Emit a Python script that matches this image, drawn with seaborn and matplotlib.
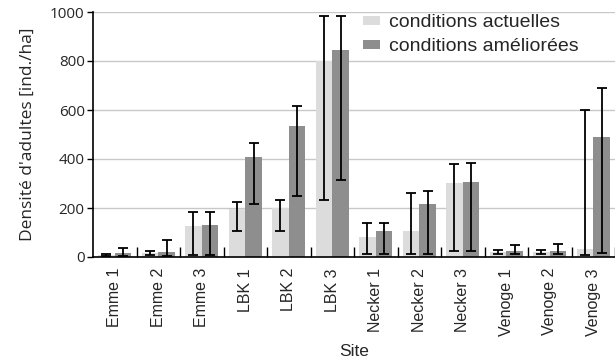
import matplotlib
matplotlib.use("Agg")
import matplotlib.pyplot as plt
import numpy as np
import pandas as pd
import seaborn as sns

sites = ["Emme 1", "Emme 2", "Emme 3", "LBK 1", "LBK 2", "LBK 3",
         "Necker 1", "Necker 2", "Necker 3", "Venoge 1", "Venoge 2", "Venoge 3"]
conditions = ["conditions actuelles", "conditions améliorées"]

# mean density and lower / upper bounds of the interval
actuelles = [10, 15, 128, 196, 200, 802, 83, 105, 304, 20, 20, 33]
actuelles_low = [6, 9, 10, 105, 107, 234, 12, 12, 23, 12, 12, 10]
actuelles_high = [14, 23, 185, 226, 234, 982, 137, 262, 378, 28, 28, 600]

ameliorees = [15, 20, 130, 409, 536, 844, 105, 216, 307, 25, 25, 488]
ameliorees_low = [3, 5, 10, 218, 250, 313, 12, 12, 23, 12, 12, 18]
ameliorees_high = [38, 70, 185, 466, 617, 982, 137, 268, 383, 48, 55, 688]

colors = ["#dcdcdc", "#8e8e8e"]

df = pd.DataFrame({
    "Site": sites * 2,
    "Condition": [conditions[0]] * len(sites) + [conditions[1]] * len(sites),
    "Densite": actuelles + ameliorees,
    "low": actuelles_low + ameliorees_low,
    "high": actuelles_high + ameliorees_high,
})

sns.set_theme(style="white")
plt.rcParams["font.family"] = ["Liberation Sans", "DejaVu Sans"]

fig = plt.figure(figsize=(6.15, 3.62), dpi=100)
ax = fig.add_axes([93 / 615, 1 - 257 / 362, 1 - 93 / 615, 245 / 362])

sns.barplot(data=df, x="Site", y="Densite", hue="Condition", order=sites,
            hue_order=conditions, palette=colors, errorbar=None,
            width=0.76, saturation=1, linewidth=0, ax=ax, zorder=2)

# asymmetric error bars at each bar's centre
for i, cond in enumerate(conditions):
    sub = df[df["Condition"] == cond].set_index("Site").loc[sites]
    container = ax.containers[i]
    xs = [p.get_x() + p.get_width() / 2 for p in container.patches]
    y = sub["Densite"].to_numpy()
    yerr = np.vstack([y - sub["low"].to_numpy(), sub["high"].to_numpy() - y])
    ax.errorbar(xs, y, yerr=yerr, fmt="none", ecolor="black",
                elinewidth=1.3, capsize=3.5, capthick=1.3, zorder=3)

ax.set_ylim(0, 1000)
ax.set_xlim(-0.5, len(sites) - 0.5)
ax.set_yticks(range(0, 1001, 200))
ax.yaxis.grid(True, color="#c8c8c8", linewidth=1.0, zorder=0)
ax.set_axisbelow(True)

for side in ["top", "right"]:
    ax.spines[side].set_visible(False)
for side in ["left", "bottom"]:
    ax.spines[side].set_color("black")
    ax.spines[side].set_linewidth(1.2)

ax.tick_params(axis="y", which="major", left=True, direction="out",
               length=4, width=1, color="black", labelsize=11, pad=2)
for lab in ax.get_yticklabels():
    lab.set_family(["Open Sans", "DejaVu Sans"])

ax.set_xticks(np.arange(len(sites)))
ax.set_xticklabels(sites, rotation=90, fontsize=11.5)
ax.set_xticks(np.arange(len(sites)) + 0.5, minor=True)
ax.tick_params(axis="x", which="major", bottom=False, length=0, pad=8)
ax.tick_params(axis="x", which="minor", bottom=True, direction="in",
               length=7, width=1, color="black")

ax.set_ylabel("Densité d'adultes [ind./ha]", fontsize=12.5,
              family=["Open Sans", "DejaVu Sans"], labelpad=10)
ax.set_xlabel("Site", fontsize=12.5, labelpad=6)

leg = ax.legend(loc="upper left", bbox_to_anchor=(0.517, 0.99), frameon=False,
                fontsize=14, handlelength=0.9, handleheight=0.36,
                handletextpad=0.45, labelspacing=0.35, borderpad=0,
                borderaxespad=0)

fig.savefig("out.png", dpi=100)
